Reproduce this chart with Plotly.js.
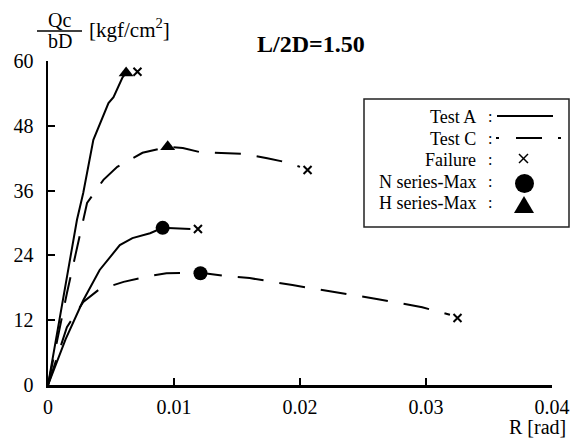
<!DOCTYPE html>
<html><head><meta charset="utf-8">
<script src="https://cdn.plot.ly/plotly-3.0.1.min.js"></script>
<style>html,body{margin:0;padding:0;background:#fff}#c{width:577px;height:441px}</style>
</head><body><div id="c"></div>
<script>
// Test A (solid) N series
const aN_x = [0, 0.0014, 0.0028, 0.0041, 0.0057, 0.0067, 0.0081, 0.0091, 0.0113];
const aN_y = [0, 8.5, 15.7, 21.3, 25.9, 27.2, 28.1, 29.1, 28.9];
// Test A (solid) H series
const aH_x = [0, 0.0023, 0.0028, 0.0036, 0.0048, 0.0052, 0.0059, 0.0062];
const aH_y = [0, 30.6, 35.6, 45.4, 52.2, 53.3, 56.9, 57.8];
// Test C (dashed) H series
const cH_x = [0, 0.0015, 0.0031, 0.0044, 0.0055, 0.0075, 0.0095, 0.0107, 0.0121, 0.0140, 0.0155, 0.0174, 0.0188, 0.0200];
const cH_y = [0, 17, 33.7, 38.0, 40.4, 43.0, 44.1, 43.9, 43.1, 43.0, 42.8, 42.0, 41.3, 40.4];
// Test C (dashed) N series
const cN_x = [0, 0.0015, 0.0028, 0.0040, 0.0060, 0.0081, 0.0094, 0.0121, 0.0140, 0.0160, 0.0194, 0.0229, 0.0262, 0.0297, 0.0319];
const cN_y = [0, 10.7, 15.4, 17.6, 19.1, 20.2, 20.7, 20.8, 20.2, 19.8, 18.5, 17.2, 15.9, 14.4, 13.0];
// Maxima and failures
const nMax_x = [0.0091, 0.0121];
const nMax_y = [29.1, 20.7];
const hMax_x = [0.0062, 0.0095];
const hMax_y = [57.8, 44.1];
const fail_x = [0.0071, 0.0119, 0.0206, 0.0325];
const fail_y = [58.0, 28.9, 39.8, 12.4];
const xTicks = [0, 0.01, 0.02, 0.03, 0.04];
const xTickText = ['0', '0.01', '0.02', '0.03', '0.04'];
const yTicks = [0, 12, 24, 36, 48, 60];
const legendLabels = ['Test A', 'Test C', 'Failure', 'N series-Max', 'H series-Max'];

const FONT = "'Liberation Serif', 'Times New Roman', Times, serif";
const L = 48, R = 552, T = 61, B = 385;
const px = x => (x - L) / (R - L);
const py = y => (B - y) / (B - T);

const DASH = '26px,16px';
const traces = [
  {x: aN_x, y: aN_y, mode: 'lines', line: {color: '#000', width: 2}},
  {x: aH_x, y: aH_y, mode: 'lines', line: {color: '#000', width: 2}},
  {x: cH_x, y: cH_y, mode: 'lines', line: {color: '#000', width: 2, dash: DASH}},
  {x: cN_x, y: cN_y, mode: 'lines', line: {color: '#000', width: 2, dash: DASH}},
  {x: nMax_x, y: nMax_y, mode: 'markers', marker: {symbol: 'circle', size: 14, color: '#000'}},
  {x: hMax_x, y: hMax_y, mode: 'markers', marker: {symbol: 'triangle-up', size: 13, color: '#000'}},
  {x: fail_x, y: fail_y, mode: 'markers', marker: {symbol: 'x-thin-open', size: 8, color: '#000', line: {color: '#000', width: 2}}}
];

const rowsY = [117, 139, 160, 182, 203];
const annotations = [];
legendLabels.forEach((t, i) => {
  annotations.push({xref: 'paper', yref: 'paper', x: px(478), y: py(rowsY[i]), xanchor: 'right', yanchor: 'middle',
    text: t, showarrow: false, font: {family: FONT, size: 18, color: '#000'}});
  annotations.push({xref: 'paper', yref: 'paper', x: px(490), y: py(rowsY[i] - 1), xanchor: 'center', yanchor: 'middle',
    text: ':', showarrow: false, font: {family: FONT, size: 16, color: '#000'}});
});
annotations.push({xref: 'paper', yref: 'paper', x: px(311), y: py(44), xanchor: 'center', yanchor: 'middle',
  text: '<b>L/2D=1.50</b>', showarrow: false, font: {family: FONT, size: 24, color: '#000'}});
annotations.push({xref: 'paper', yref: 'paper', x: px(59), y: py(20), xanchor: 'center', yanchor: 'middle',
  text: 'Qc', showarrow: false, font: {family: FONT, size: 20, color: '#000'}});
annotations.push({xref: 'paper', yref: 'paper', x: px(60), y: py(41), xanchor: 'center', yanchor: 'middle',
  text: 'bD', showarrow: false, font: {family: FONT, size: 20, color: '#000'}});
annotations.push({xref: 'paper', yref: 'paper', x: px(87), y: py(28), xanchor: 'left', yanchor: 'middle',
  text: '[kgf/cm<sup>2</sup>]', showarrow: false, font: {family: FONT, size: 21, color: '#000'}});
annotations.push({xref: 'paper', yref: 'paper', x: px(568), y: py(427), xanchor: 'right', yanchor: 'middle',
  text: 'R [rad]', showarrow: false, font: {family: FONT, size: 20, color: '#000'}});

const shapes = [
  {type: 'rect', xref: 'paper', yref: 'paper', x0: px(364), x1: px(569), y0: py(99), y1: py(227),
    line: {color: '#222', width: 1.5}, fillcolor: 'rgba(255,255,255,1)', layer: 'above'},
  {type: 'line', xref: 'paper', yref: 'paper', x0: px(37), x1: px(82), y0: py(31), y1: py(31), line: {color: '#000', width: 1.5}},
  // legend samples
  {type: 'line', xref: 'paper', yref: 'paper', x0: px(497), x1: px(553), y0: py(116), y1: py(116), line: {color: '#000', width: 2}},
  {type: 'line', xref: 'paper', yref: 'paper', x0: px(496), x1: px(499), y0: py(138), y1: py(138), line: {color: '#000', width: 2}},
  {type: 'line', xref: 'paper', yref: 'paper', x0: px(516), x1: px(542), y0: py(138), y1: py(138), line: {color: '#000', width: 2}},
  {type: 'line', xref: 'paper', yref: 'paper', x0: px(558), x1: px(561), y0: py(138), y1: py(138), line: {color: '#000', width: 2}},
  {type: 'line', xref: 'paper', yref: 'paper', x0: px(519), x1: px(528), y0: py(154), y1: py(163), line: {color: '#000', width: 1.5}},
  {type: 'line', xref: 'paper', yref: 'paper', x0: px(519), x1: px(528), y0: py(163), y1: py(154), line: {color: '#000', width: 1.5}},
  {type: 'circle', xref: 'paper', yref: 'paper', x0: px(515), x1: px(534), y0: py(174), y1: py(193), fillcolor: '#000', line: {color: '#000', width: 0}},
  {type: 'path', xref: 'paper', yref: 'paper',
    path: `M ${px(514)} ${py(213)} L ${px(534)} ${py(213)} L ${px(524)} ${py(196)} Z`, fillcolor: '#000', line: {color: '#000', width: 0}}
];

const layout = {
  width: 577, height: 441,
  margin: {l: L, r: 577 - R, t: T, b: 441 - B, pad: 0},
  paper_bgcolor: '#fff', plot_bgcolor: '#fff',
  showlegend: false,
  font: {family: FONT, color: '#000'},
  xaxis: {range: [0, 0.04], tickvals: xTicks, ticktext: xTickText, ticks: 'inside', ticklen: 7, tickwidth: 2,
    tickcolor: '#000', showline: true, linecolor: '#000', linewidth: 2.5, showgrid: false, zeroline: false,
    tickfont: {family: FONT, size: 20, color: '#000'}, ticklabelstandoff: 2},
  yaxis: {range: [0, 60], tickvals: yTicks, ticks: 'inside', ticklen: 7, tickwidth: 2,
    tickcolor: '#000', showline: true, linecolor: '#000', linewidth: 2.5, showgrid: false, zeroline: false,
    tickfont: {family: FONT, size: 20, color: '#000'}, ticklabelstandoff: 8},
  annotations: annotations,
  shapes: shapes
};
Plotly.newPlot('c', traces, layout, {displayModeBar: false, staticPlot: true});
</script>
</body></html>
